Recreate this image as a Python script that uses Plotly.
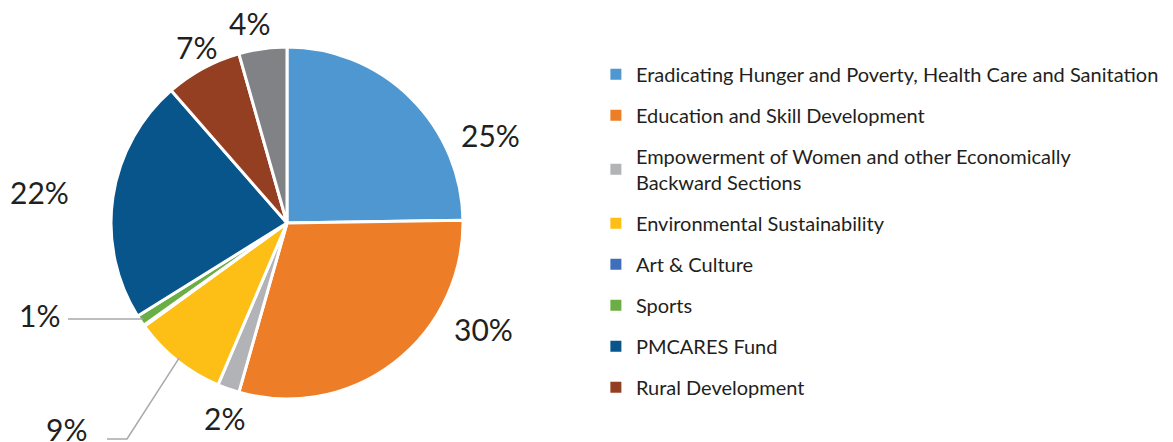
import math
import plotly.graph_objects as go

# CSR spend by development area (share of total)
categories = [
    "Eradicating Hunger and Poverty, Health Care and Sanitation",
    "Education and Skill Development",
    "Empowerment of Women and other Economically<br>Backward Sections",
    "Environmental Sustainability",
    "Art & Culture",
    "Sports",
    "PMCARES Fund",
    "Rural Development",
    "Others",
]
shares = [24.7, 29.6, 2.0, 8.6, 0.1, 1.0, 22.4, 7.0, 4.4]
colors = ["#4E97D1", "#ED7D26", "#B1B3B6", "#FDBF16", "#3F6FBA",
          "#6AAE45", "#07558B", "#943F22", "#808285"]
in_legend = [True, True, True, True, True, True, True, True, False]

# ---- layout / styling -------------------------------------------------------
W, H = 1173, 442
CX, CY, R = 287, 223, 176          # pie centre and radius in pixels
FONT = "Lato"
TEXT = "#231F20"
LEADER = "#A7A9AC"

# where each percentage label sits (pixel centre) and whether it gets a leader
label_pos = {
    0: (490, 135), 1: (483, 329), 2: (224, 418), 3: (66, 429),
    5: (39, 315), 6: (39, 192), 7: (196, 47), 8: (249, 23),
}
leader_elbow = {3: (127, 439), 5: (68, 319)}
leader_end = {3: (107, 439)}


def px(x):
    return x / W


def py(y):
    return 1 - y / H


total = sum(shares)

fig = go.Figure()
fig.add_trace(go.Pie(
    labels=categories,
    values=shares,
    sort=False,
    direction="clockwise",
    rotation=0,
    marker=dict(colors=colors, line=dict(color="white", width=3)),
    textinfo="none",
    showlegend=False,
    domain=dict(x=[px(CX - R), px(CX + R)], y=[py(CY + R), py(CY - R)]),
    hoverinfo="label+percent",
))

# legend entries
for i, (name, col) in enumerate(zip(categories, colors)):
    if not in_legend[i]:
        continue
    fig.add_trace(go.Scatter(
        x=[None], y=[None], mode="markers", name=name,
        legendgroup=f"g{i}",
        marker=dict(symbol="square", size=11, color=col),
    ))

# percentage labels and leader lines, derived from the slice values
annotations, shapes = [], []
cum = 0.0
for i, v in enumerate(shares):
    mid = (cum + v / 2) / total * 2 * math.pi
    cum += v
    if i not in label_pos:
        continue
    lx, ly = label_pos[i]
    annotations.append(dict(
        x=px(lx), y=py(ly), xref="paper", yref="paper",
        text=f"{round(v / total * 100)}%", showarrow=False,
        xanchor="center", yanchor="middle",
        font=dict(family=FONT, size=30, color=TEXT),
    ))
    if i in leader_elbow:
        ex = CX + (R - 3) * math.sin(mid)
        ey = CY - (R - 3) * math.cos(mid)
        bx, by = leader_elbow[i]
        path = f"M {px(ex)},{py(ey)} L {px(bx)},{py(by)}"
        if i in leader_end:
            fx, fy = leader_end[i]
            path += f" L {px(fx)},{py(fy)}"
        shapes.append(dict(type="path", xref="paper", yref="paper", path=path,
                           line=dict(color=LEADER, width=1.5)))

fig.update_layout(
    width=W, height=H,
    margin=dict(l=0, r=0, t=0, b=0),
    paper_bgcolor="white", plot_bgcolor="white",
    xaxis=dict(visible=False), yaxis=dict(visible=False),
    annotations=annotations,
    shapes=shapes,
    legend=dict(
        x=0.508, y=0.876, xanchor="left", yanchor="top",
        font=dict(family=FONT, size=20, color=TEXT),
        traceorder="grouped", tracegroupgap=12,
        itemsizing="trace",
    ),
)

fig.write_html("out.html")
